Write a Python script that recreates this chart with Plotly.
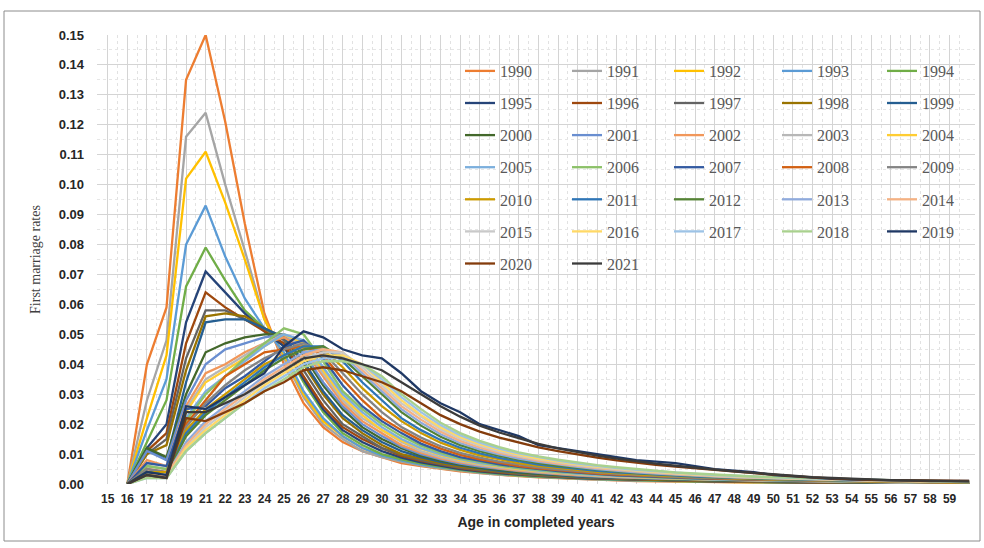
import plotly.graph_objects as go

# ---------------- data ----------------
age_labels = ["15", "16", "17", "18", "19", "21", "22", "23", "24", "25", "26", "27", "28", "29",
              "30", "31", "32", "33", "34", "35", "36", "37", "38", "39", "40", "41", "42", "43",
              "44", "45", "46", "47", "48", "49", "50", "51", "52", "53", "54", "55", "56", "57",
              "58", "59"]
ages = age_labels + ["60"]

years = list(range(1990, 2022))

rates_1990 = [None,0,.040,.059,.135,.150,.121,.087,.057,.040,.027,.019,.014,.011,.009,.007,.006,.005,.0042,.0036,.003,.0026,.0022,.0019,.0016,.0014,.0012,.001,.0009,.0008,.0007,.0006,.0005,.0004,.0004,.0003,.0003,.0002,.0002,.0002,.0001,.0001,.0001,.0001,.0001]
rates_1991 = [None,0,.028,.048,.116,.124,.100,.078,.055,.042,.029,.020,.015,.011,.009,.0075,.0062,.0052,.0044,.0037,.0031,.0027,.0023,.002,.0017,.0015,.0013,.0011,.001,.0009,.0008,.0007,.0006,.0005,.0004,.0004,.0003,.0003,.0002,.0002,.0002,.0001,.0001,.0001,.0001]
rates_1992 = [None,0,.022,.043,.102,.111,.094,.075,.055,.043,.030,.021,.016,.012,.0095,.0078,.0065,.0054,.0046,.0039,.0033,.0028,.0024,.0021,.0018,.0016,.0014,.0012,.001,.0009,.0008,.0007,.0006,.0005,.0005,.0004,.0003,.0003,.0002,.0002,.0002,.0001,.0001,.0001,.0001]
rates_1993 = [None,0,.018,.035,.080,.093,.076,.062,.052,.044,.031,.022,.016,.012,.0095,.0078,.0065,.0055,.0046,.0039,.0033,.0028,.0024,.0021,.0018,.0016,.0014,.0012,.0011,.001,.0009,.0008,.0007,.0006,.0005,.0004,.0004,.0003,.0003,.0002,.0002,.0002,.0001,.0001,.0001]
rates_1994 = [None,0,.014,.028,.066,.079,.068,.058,.052,.046,.034,.024,.017,.013,.010,.0082,.0068,.0057,.0048,.004,.0034,.0029,.0025,.0022,.0019,.0017,.0015,.0013,.0011,.001,.0009,.0008,.0007,.0006,.0005,.0004,.0004,.0003,.0003,.0002,.0002,.0002,.0001,.0001,.0001]
rates_1995 = [None,0,.012,.020,.054,.071,.064,.057,.051,.046,.035,.025,.018,.014,.011,.0088,.0072,.006,.005,.0042,.0036,.0031,.0027,.0023,.002,.0018,.0016,.0014,.0012,.0011,.001,.0009,.0008,.0007,.0006,.0005,.0004,.0004,.0003,.0003,.0002,.0002,.0002,.0001,.0001]
rates_1996 = [None,0,.011,.017,.047,.064,.059,.055,.051,.047,.036,.026,.019,.015,.012,.0094,.0077,.0064,.0053,.0045,.0038,.0033,.0028,.0024,.0021,.0019,.0017,.0015,.0013,.0012,.001,.0009,.0008,.0007,.0006,.0005,.0005,.0004,.0003,.0003,.0002,.0002,.0002,.0001,.0001]
rates_1997 = [None,0,.010,.015,.042,.058,.058,.055,.052,.048,.038,.028,.020,.016,.012,.0098,.008,.0066,.0055,.0047,.004,.0034,.0029,.0025,.0022,.002,.0018,.0016,.0014,.0012,.0011,.001,.0009,.0008,.0007,.0006,.0005,.0004,.0004,.0003,.0003,.0002,.0002,.0002,.0001]
rates_1998 = [None,0,.010,.013,.038,.056,.057,.056,.052,.049,.040,.030,.022,.017,.013,.010,.0084,.007,.0058,.0049,.0042,.0036,.0031,.0027,.0024,.0021,.0019,.0017,.0015,.0013,.0012,.0011,.001,.0009,.0008,.0007,.0006,.0005,.0004,.0004,.0003,.0003,.0002,.0002,.0002]
rates_1999 = [None,0,.012,.008,.034,.054,.055,.055,.052,.049,.041,.031,.023,.018,.014,.011,.009,.0074,.0062,.0052,.0044,.0038,.0033,.0028,.0025,.0022,.002,.0018,.0016,.0014,.0013,.0012,.0011,.001,.0009,.0008,.0007,.0006,.0005,.0004,.0004,.0003,.0003,.0002,.0002]
rates_2000 = [None,0,.012,.009,.030,.044,.047,.049,.050,.050,.043,.033,.025,.019,.015,.012,.0095,.0078,.0065,.0055,.0047,.004,.0035,.003,.0027,.0024,.0021,.0019,.0017,.0015,.0014,.0013,.0012,.0011,.001,.0009,.0008,.0007,.0006,.0005,.0004,.0004,.0003,.0003,.0002]
rates_2001 = [None,0,.011,.008,.028,.040,.045,.047,.049,.050,.044,.034,.026,.020,.016,.0125,.010,.0082,.0068,.0058,.005,.0043,.0037,.0032,.0028,.0025,.0022,.002,.0018,.0016,.0015,.0013,.0012,.0011,.001,.0009,.0008,.0007,.0006,.0005,.0005,.0004,.0003,.0003,.0002]
rates_2002 = [None,0,.008,.006,.026,.037,.040,.044,.047,.049,.045,.036,.027,.021,.017,.013,.0105,.0086,.0072,.0061,.0052,.0045,.0039,.0034,.003,.0026,.0023,.0021,.0019,.0017,.0015,.0014,.0013,.0012,.0011,.001,.0009,.0008,.0007,.0006,.0005,.0004,.0004,.0003,.0003]
rates_2003 = [None,0,.007,.006,.025,.035,.039,.043,.047,.050,.046,.037,.028,.022,.018,.014,.011,.009,.0076,.0064,.0055,.0047,.0041,.0036,.0031,.0027,.0024,.0022,.002,.0018,.0016,.0015,.0013,.0012,.0011,.001,.0009,.0008,.0007,.0006,.0005,.0004,.0004,.0003,.0003]
rates_2004 = [None,0,.006,.005,.024,.034,.038,.042,.046,.050,.047,.038,.029,.023,.018,.0145,.0118,.0096,.008,.0068,.0058,.005,.0043,.0037,.0033,.0029,.0026,.0023,.002,.0018,.0016,.0015,.0014,.0012,.0011,.001,.0009,.0008,.0007,.0006,.0005,.0005,.0004,.0003,.0003]
rates_2005 = [None,0,.006,.005,.022,.031,.036,.041,.046,.050,.048,.039,.030,.024,.019,.015,.012,.0099,.0083,.007,.006,.0052,.0045,.0039,.0034,.003,.0027,.0024,.0021,.0019,.0017,.0015,.0014,.0013,.0012,.0011,.001,.0009,.0008,.0007,.0006,.0005,.0004,.0004,.0003]
rates_2006 = [None,0,.006,.005,.021,.030,.036,.042,.047,.052,.050,.041,.031,.025,.020,.016,.0128,.0104,.0086,.0073,.0062,.0054,.0047,.0041,.0036,.0032,.0028,.0025,.0022,.002,.0018,.0016,.0015,.0014,.0013,.0012,.0011,.001,.0009,.0008,.0007,.0006,.0005,.0004,.0004]
rates_2007 = [None,0,.007,.006,.025,.026,.032,.036,.041,.046,.048,.042,.033,.026,.021,.017,.0135,.011,.009,.0077,.0066,.0057,.0049,.0043,.0038,.0033,.0029,.0026,.0023,.0021,.0019,.0017,.0015,.0014,.0013,.0012,.0011,.001,.0009,.0008,.0007,.0006,.0005,.0005,.0004]
rates_2008 = [None,0,.005,.004,.020,.028,.036,.040,.044,.045,.046,.043,.035,.028,.022,.018,.0145,.0118,.0097,.0082,.007,.006,.0052,.0046,.004,.0035,.0031,.0028,.0025,.0022,.002,.0018,.0016,.0015,.0014,.0012,.0011,.001,.0009,.0008,.0007,.0006,.0006,.0005,.0004]
rates_2009 = [None,0,.005,.004,.019,.027,.033,.038,.042,.045,.047,.044,.037,.030,.024,.019,.0155,.0126,.0104,.0088,.0075,.0065,.0056,.0049,.0043,.0038,.0034,.003,.0027,.0024,.0021,.0019,.0017,.0016,.0014,.0013,.0012,.0011,.001,.0009,.0008,.0007,.0006,.0005,.0005]
rates_2010 = [None,0,.004,.004,.018,.025,.030,.035,.040,.043,.046,.045,.039,.032,.026,.021,.017,.0138,.0114,.0096,.0082,.007,.0061,.0053,.0047,.0041,.0036,.0032,.0029,.0026,.0023,.0021,.0019,.0017,.0015,.0014,.0013,.0011,.001,.0009,.0008,.0008,.0007,.0006,.0005]
rates_2011 = [None,0,.004,.003,.017,.024,.029,.034,.039,.043,.046,.046,.041,.034,.028,.022,.018,.0147,.0121,.0102,.0087,.0075,.0065,.0057,.005,.0044,.0039,.0035,.0031,.0028,.0025,.0022,.002,.0018,.0016,.0015,.0013,.0012,.0011,.001,.0009,.0008,.0007,.0006,.0006]
rates_2012 = [None,0,.004,.003,.016,.023,.028,.033,.038,.042,.045,.046,.042,.036,.030,.024,.0195,.0158,.013,.011,.0094,.0081,.007,.0061,.0054,.0048,.0042,.0037,.0033,.003,.0027,.0024,.0021,.0019,.0017,.0016,.0014,.0013,.0012,.0011,.001,.0009,.0008,.0007,.0006]
rates_2013 = [None,0,.003,.003,.014,.021,.026,.031,.036,.040,.044,.045,.043,.037,.031,.025,.0205,.0166,.0137,.0116,.0099,.0085,.0074,.0065,.0057,.005,.0044,.0039,.0035,.0031,.0028,.0025,.0022,.002,.0018,.0016,.0015,.0013,.0012,.0011,.001,.0009,.0008,.0007,.0006]
rates_2014 = [None,0,.003,.003,.013,.020,.025,.030,.035,.039,.043,.045,.044,.038,.032,.026,.0215,.0175,.0144,.0122,.0104,.009,.0078,.0068,.006,.0053,.0047,.0041,.0037,.0033,.0029,.0026,.0023,.0021,.0019,.0017,.0015,.0014,.0013,.0011,.001,.0009,.0008,.0007,.0007]
rates_2015 = [None,0,.003,.002,.012,.019,.024,.029,.034,.038,.042,.044,.044,.039,.033,.027,.0225,.0183,.0151,.0128,.0109,.0094,.0082,.0072,.0063,.0056,.0049,.0044,.0039,.0035,.0031,.0027,.0024,.0022,.002,.0018,.0016,.0015,.0013,.0012,.0011,.001,.0009,.0008,.0007]
rates_2016 = [None,0,.003,.002,.012,.018,.023,.028,.033,.037,.041,.043,.043,.040,.034,.028,.023,.019,.0157,.0133,.0114,.0098,.0085,.0075,.0066,.0058,.0051,.0046,.0041,.0036,.0032,.0029,.0026,.0023,.0021,.0019,.0017,.0015,.0014,.0012,.0011,.001,.0009,.0008,.0007]
rates_2017 = [None,0,.002,.002,.011,.017,.022,.027,.032,.036,.040,.042,.042,.040,.035,.029,.024,.0197,.0163,.0138,.0118,.0102,.0089,.0078,.0068,.006,.0053,.0047,.0042,.0038,.0034,.003,.0027,.0024,.0022,.002,.0018,.0016,.0014,.0013,.0012,.0011,.001,.0009,.0008]
rates_2018 = [None,0,.002,.002,.011,.017,.022,.027,.031,.035,.039,.041,.041,.040,.036,.030,.025,.0205,.017,.0144,.0123,.0106,.0092,.0081,.0071,.0063,.0056,.005,.0044,.0039,.0035,.0031,.0028,.0025,.0023,.0021,.0019,.0017,.0015,.0014,.0012,.0011,.001,.0009,.0008]
rates_2019 = [None,0,.004,.003,.026,.025,.029,.033,.037,.046,.051,.049,.045,.043,.042,.037,.031,.027,.024,.020,.018,.016,.013,.012,.011,.010,.009,.008,.0075,.007,.006,.005,.0045,.004,.003,.0025,.002,.0017,.0015,.0013,.0012,.0011,.001,.001,.001]
rates_2020 = [None,0,.003,.002,.022,.021,.024,.027,.031,.034,.038,.039,.038,.036,.034,.031,.027,.023,.020,.0175,.0155,.0138,.0122,.011,.0098,.0088,.0079,.0071,.0064,.0058,.0052,.0046,.0041,.0036,.0031,.0026,.0022,.0019,.0016,.0014,.0013,.0012,.0011,.001,.001]
rates_2021 = [None,0,.003,.002,.024,.024,.027,.030,.034,.038,.042,.043,.042,.040,.038,.034,.030,.026,.0225,.0195,.0172,.0152,.0134,.0119,.0106,.0095,.0085,.0076,.0068,.0061,.0054,.0048,.0042,.0037,.0032,.0027,.0023,.002,.0017,.0015,.0013,.0012,.0011,.001,.0009]

series_colors = ["#ED7D31", "#A5A5A5", "#FFC000", "#5B9BD5", "#70AD47",
                 "#264478", "#9E480E", "#636363", "#997300", "#255E91",
                 "#43682B", "#698ED0", "#F1975A", "#B7B7B7", "#FFCD33",
                 "#7CAFDD", "#8CC168", "#335AA1", "#D26012", "#848484",
                 "#CC9A00", "#2E75B6", "#548235", "#8FAADC", "#F4B183",
                 "#C9C9C9", "#FFD966", "#9DC3E6", "#A9D18E", "#1F3864",
                 "#843C0C", "#3B3B3B"]

all_rates = [rates_1990, rates_1991, rates_1992, rates_1993, rates_1994, rates_1995,
             rates_1996, rates_1997, rates_1998, rates_1999, rates_2000, rates_2001,
             rates_2002, rates_2003, rates_2004, rates_2005, rates_2006, rates_2007,
             rates_2008, rates_2009, rates_2010, rates_2011, rates_2012, rates_2013,
             rates_2014, rates_2015, rates_2016, rates_2017, rates_2018, rates_2019,
             rates_2020, rates_2021]

# ---------------- figure ----------------
W, H = 984, 548
L, R, T, B = 97, 9, 35, 64
pw, ph = W - L - R, H - T - B

x_pos = list(range(len(ages)))

fig = go.Figure()
legend_names = ["legend", "legend2", "legend3", "legend4", "legend5"]
for i, (yr, vals) in enumerate(zip(years, all_rates)):
    fig.add_trace(go.Scatter(
        x=x_pos, y=vals, mode="lines", name=str(yr),
        line=dict(color=series_colors[i], width=2.3),
        legend=legend_names[i % 5], legendgroup=str(yr),
        connectgaps=False,
    ))

col_px = [460, 567, 669, 777, 882]
legend_top_px = 54
row_gap = 8.3
legend_common = dict(
    orientation="v", bgcolor="rgba(0,0,0,0)", borderwidth=0,
    font=dict(family="Liberation Serif, Times New Roman, serif", size=16, color="#595959"),
    tracegroupgap=row_gap, yanchor="top", xanchor="left",
    y=(H - B - legend_top_px) / ph,
)
layout_legends = {}
for k, name in enumerate(legend_names):
    layout_legends[name] = dict(legend_common, x=(col_px[k] - L) / pw)

fig.update_layout(
    width=W, height=H,
    margin=dict(l=L, r=R, t=T, b=B, autoexpand=False),
    paper_bgcolor="white", plot_bgcolor="white",
    showlegend=True,
    **layout_legends,
)

fig.update_xaxes(
    range=[-0.55, 44.3],
    tickmode="array", tickvals=x_pos[:len(age_labels)], ticktext=age_labels,
    tickangle=0,
    tickfont=dict(family="Liberation Sans Narrow, Liberation Sans, Arial", size=12, color="#262626", weight="bold"),
    showgrid=True, gridcolor="#d4d4d4", gridwidth=1,
    minor=dict(tickmode="linear", tick0=0.5, dtick=1, showgrid=True, gridcolor="#e2e2e2", griddash="dot"),
    zeroline=False, showline=False, ticks="", ticklabelstandoff=6,
    title=dict(text="Age in completed years", standoff=12,
               font=dict(family="Liberation Sans, Arial", size=14, color="#262626", weight="bold")),
    automargin=False,
)
fig.update_yaxes(
    range=[0, 0.15], dtick=0.01, tick0=0, tickformat=".2f",
    tickfont=dict(family="Liberation Sans, Arial", size=13, color="#262626", weight="bold"),
    showgrid=True, gridcolor="#d4d4d4", gridwidth=1,
    minor=dict(dtick=0.005, showgrid=True, gridcolor="#e6e6e6", griddash="dot"),
    zeroline=False, showline=False, ticks="", ticklabelstandoff=12,
    title=dict(text="First marriage rates", standoff=14,
               font=dict(family="Liberation Serif, Times New Roman, serif", size=14, color="#404040")),
    automargin=False,
)

# outer frame
fig.add_shape(type="rect", xref="paper", yref="paper",
              x0=(4 - L) / pw, x1=(980 - L) / pw,
              y0=(H - B - 541) / ph, y1=(H - B - 11) / ph,
              line=dict(color="#8c8c8c", width=1), fillcolor="rgba(0,0,0,0)", layer="below")

fig.write_html("out.html")
